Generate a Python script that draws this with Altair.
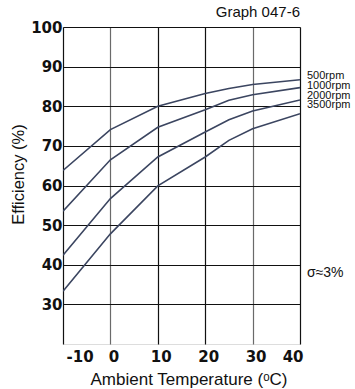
import altair as alt
import pandas as pd

temps = [-10, 0, 10, 20, 25, 30, 40]
eff_500 = [63.8, 74.1, 80.0, 83.2, 84.5, 85.5, 86.7]
eff_1000 = [53.5, 66.5, 74.7, 79.1, 81.5, 82.9, 84.7]
eff_2000 = [42.4, 56.7, 67.2, 73.5, 76.6, 78.8, 81.6]
eff_3500 = [33.3, 47.8, 59.9, 67.2, 71.4, 74.3, 78.1]
series_names = ["500rpm", "1000rpm", "2000rpm", "3500rpm"]
label_y = [87.6, 85.2, 82.7, 80.3]
x_ticks = [-10, 0, 10, 20, 30, 40]
y_ticks = [30, 40, 50, 60, 70, 80, 90, 100]

rows = []
for name, vals in zip(series_names, [eff_500, eff_1000, eff_2000, eff_3500]):
    for t, v in zip(temps, vals):
        rows.append({"temp": t, "eff": v, "series": name})
df = pd.DataFrame(rows)
lab = pd.DataFrame({"series": series_names, "y": label_y, "x": [40] * 4})
sig = pd.DataFrame({"x": [40], "y": [38.0], "t": ["σ≈3%"]})

FONT = "Liberation Sans"
TICKFONT = "DejaVu Sans"
LINE = "#3b4560"

xs = alt.Scale(domain=[-10, 40], nice=False)
ys = alt.Scale(domain=[20, 100], nice=False)

lines = alt.Chart(df).mark_line(color=LINE, strokeWidth=1.6, clip=True).encode(
    x=alt.X("temp:Q", scale=xs, axis=alt.Axis(
        values=x_ticks, title="Ambient Temperature (ᵒC)", grid=True,
        labelExpr="replace(format(datum.value, 'd'), '−', '-')",
        gridColor={"condition": {"test": "datum.value == 0 || datum.value == 30", "value": "#6a6a6a"}, "value": "#111111"},
        gridWidth=1.2, ticks=False, domain=False, labelFont=TICKFONT, labelFontWeight="bold",
        labelFontSize=15, labelPadding=5, labelOffset=3, labelBaseline="top",
        titleFont=FONT, titleFontSize=17, titleFontWeight="normal",
        titleX=125.5, titleY=35, titleBaseline="middle",
        labelColor="#111", titleColor="#111")),
    y=alt.Y("eff:Q", scale=ys, axis=alt.Axis(
        values=y_ticks, title="Efficiency (%)", grid=True, gridColor="#111111", gridWidth=1.1,
        ticks=False, domain=False, labelFont=TICKFONT, labelFontWeight="bold",
        labelFontSize=15, labelPadding=1,
        titleFont=FONT, titleFontSize=16.5, titleFontWeight="normal",
        titleX=-44.5, titleY=147, titleBaseline="middle", titleAngle=-90,
        labelColor="#111", titleColor="#111")),
    detail="series:N",
)

labels = alt.Chart(lab).mark_text(align="left", baseline="middle", dx=7, fontSize=11, font=FONT, color="#111").encode(
    x=alt.X("x:Q", scale=xs), y=alt.Y("y:Q", scale=ys), text="series:N")

sigma = alt.Chart(sig).mark_text(align="left", baseline="middle", dx=7, fontSize=14, font=FONT, color="#111").encode(
    x=alt.X("x:Q", scale=xs), y=alt.Y("y:Q", scale=ys), text="t:N")

graph_title = alt.Chart(pd.DataFrame({"t": ["Graph 047-6"]})).mark_text(
    align="right", baseline="middle", fontSize=15, font=FONT, color="#111").encode(
    x=alt.value(237), y=alt.value(-15), text="t:N")

chart = alt.layer(lines, labels, sigma, graph_title).properties(
    width=237, height=317,
    autosize=alt.AutoSizeParams(type="none"),
    padding={"left": 63, "top": 27, "right": 55, "bottom": 45},
    background="white",
).configure_view(fill="#ebebeb", stroke="#222222", strokeWidth=1.5).configure(font=FONT)

chart.save("out.html", embed_options={"renderer": "svg", "actions": False})
